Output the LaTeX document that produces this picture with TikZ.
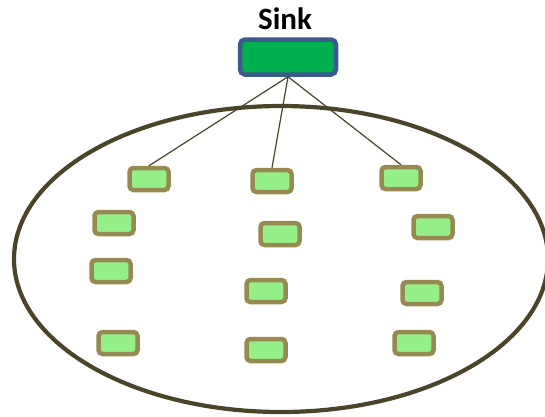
\documentclass[tikz,border=0pt]{standalone}
\usepackage{fontspec}
\setmainfont{Carlito}
\definecolor{sinkgreen}{RGB}{0,176,80}
\definecolor{sinkblue}{RGB}{60,90,140}
\definecolor{nodegreen}{RGB}{150,240,137}
\definecolor{nodeolive}{RGB}{150,138,82}
\definecolor{fielddark}{RGB}{74,68,40}
\tikzset{
  sensor/.style={rectangle, rounded corners=4pt, draw=nodeolive, fill=nodegreen,
    line width=4.5pt, minimum width=39pt, minimum height=22pt, inner sep=0pt},
  sinkbox/.style={rectangle, rounded corners=5pt, draw=sinkblue, fill=sinkgreen,
    line width=4.5pt, minimum width=96pt, minimum height=35pt, inner sep=0pt},
  link/.style={draw=fielddark, line width=1.2pt}
}
\begin{document}
\begin{tikzpicture}[x=1pt, y=-1pt]
    \useasboundingbox (0,0) rectangle (545,416);

    % Field
    \draw[fielddark, line width=4.2pt] (281,259) ellipse [x radius=267, y radius=153];

    % Sink
    \node[sinkbox] (sink) at (288,57) {};
    \node[font=\fontsize{31}{36}\selectfont\bfseries] (label) at (285,19) {Sink};

    % Sensor nodes
    \node[sensor] (a1) at (149,179) {};
    \node[sensor] (a2) at (114,223) {};
    \node[sensor] (a3) at (111,271) {};
    \node[sensor] (a4) at (118,343) {};
    \node[sensor] (b1) at (272,181) {};
    \node[sensor] (b2) at (280,234) {};
    \node[sensor] (b3) at (266,291) {};
    \node[sensor] (b4) at (266,350) {};
    \node[sensor] (c1) at (401,178) {};
    \node[sensor] (c2) at (433,227) {};
    \node[sensor] (c3) at (422,293) {};
    \node[sensor] (c4) at (414,343) {};

    % Links to the sink
    \draw[link] (sink.south) -- (a1.north);
    \draw[link] (sink.south) -- (b1.north);
    \draw[link] (sink.south) -- (c1.north);
\end{tikzpicture}
\end{document}
